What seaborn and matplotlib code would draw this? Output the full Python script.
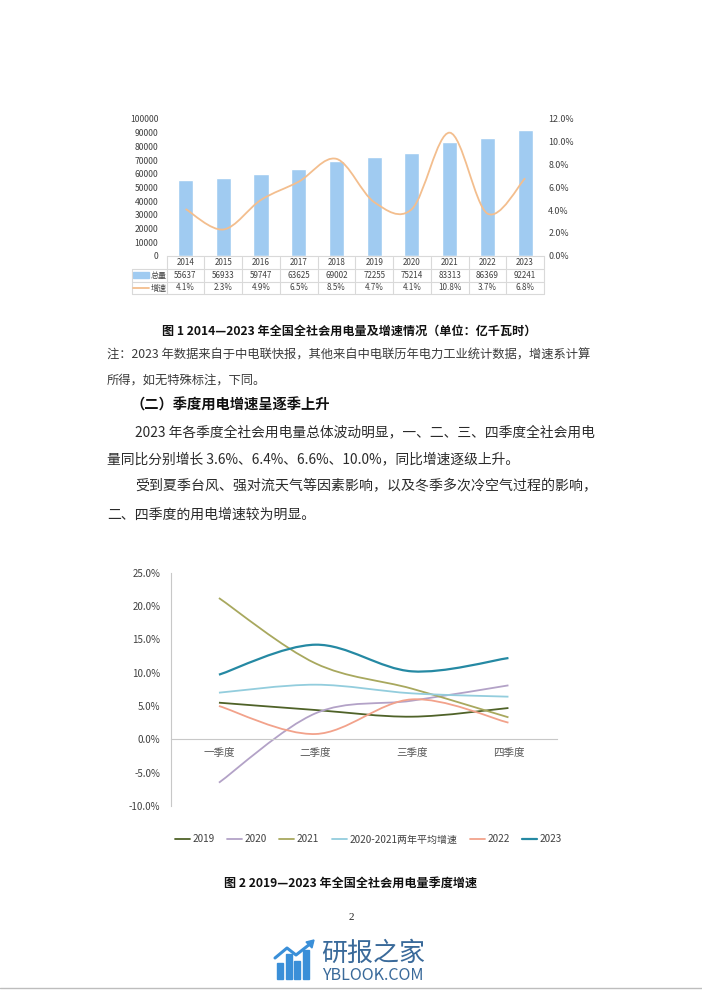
import numpy as np
import pandas as pd
import matplotlib
matplotlib.use('Agg')
import matplotlib.pyplot as plt
import seaborn as sns
from matplotlib.path import Path
from matplotlib.patches import PathPatch, Rectangle, Polygon
from matplotlib.lines import Line2D
import matplotlib.transforms as mtransforms

# ---------------- data ----------------
years = ['2014', '2015', '2016', '2017', '2018', '2019', '2020', '2021', '2022', '2023']
total = [55637, 56933, 59747, 63625, 69002, 72255, 75214, 83313, 86369, 92241]
growth = [4.1, 2.3, 4.9, 6.5, 8.5, 4.7, 4.1, 10.8, 3.7, 6.8]
growth_labels = ['4.1%', '2.3%', '4.9%', '6.5%', '8.5%', '4.7%', '4.1%', '10.8%', '3.7%', '6.8%']

quarters = ['一季度', '二季度', '三季度', '四季度']
q2019 = [5.5, 4.4, 3.4, 4.7]
q2020 = [-6.5, 3.9, 5.8, 8.1]
q2021 = [21.2, 11.4, 7.6, 3.3]
q2020_2021 = [7.0, 8.2, 6.9, 6.4]
q2022 = [5.0, 0.8, 6.0, 2.5]
q2023 = [9.7, 14.2, 10.2, 12.2]
series_names = ['2019', '2020', '2021', '2020-2021两年平均增速', '2022', '2023']
series_values = [q2019, q2020, q2021, q2020_2021, q2022, q2023]
series_colors = ['#4F6228', '#B3A2C7', '#A8A85E', '#93CDDD', '#F2A28B', '#2589A3']
series_widths = [1.3, 1.3, 1.3, 1.3, 1.3, 1.6]

# ---------------- setup ----------------
sns.set_theme(style='white')
plt.rcParams['font.family'] = ['Noto Sans CJK SC', 'DejaVu Sans']
W, H = 702, 991
fig = plt.figure(figsize=(7.02, 9.91), dpi=100)
fig.patch.set_facecolor('white')


def rect(x0, y0, x1, y1):
    return [x0 / W, 1 - y1 / H, (x1 - x0) / W, (y1 - y0) / H]


def fy(y):
    return 1 - y / H


def fx(x):
    return x / W


def smooth_path(xs, ys):
    pts = np.column_stack([xs, ys]).astype(float)
    n = len(pts)
    ext = np.vstack([pts[0], pts, pts[-1]])
    verts = [pts[0]]
    codes = [Path.MOVETO]
    for i in range(n - 1):
        p0, p1, p2, p3 = ext[i], ext[i + 1], ext[i + 2], ext[i + 3]
        c1 = p1 + (p2 - p0) / 6.0
        c2 = p2 - (p3 - p1) / 6.0
        verts += [c1, c2, p2]
        codes += [Path.CURVE4] * 3
    return Path(verts, codes)


def fig_line(x0, y0, x1, y1, color='#D9D9D9', lw=0.8):
    fig.add_artist(Line2D([fx(x0), fx(x1)], [fy(y0), fy(y1)], transform=fig.transFigure,
                          color=color, lw=lw))


line1_color = '#F3BE8E'
bar_color = '#A0CBF1'

# ---------------- chart 1 ----------------
ax1 = fig.add_axes(rect(166.7, 119, 544, 255.7))
df1 = pd.DataFrame({'year': years, 'total': total})
sns.barplot(data=df1, x='year', y='total', color=bar_color, width=0.4, saturation=1, ax=ax1)
ax1.set_xlim(-0.5, 9.5)
ax1.set_ylim(0, 100000)
ax1.set_yticks(range(0, 100001, 10000))
ax1.set_yticklabels([str(v) for v in range(0, 100001, 10000)])
ax1.set_xticks([])
ax1.set_xlabel('')
ax1.set_ylabel('')
for s in ['left', 'right', 'top']:
    ax1.spines[s].set_visible(False)
ax1.spines['bottom'].set_color('#D9D9D9')
ax1.spines['bottom'].set_linewidth(0.8)
ax1.tick_params(axis='y', length=0, pad=6, labelsize=6.2, labelcolor='#404040')
ax1.set_facecolor('none')

ax2 = ax1.twinx()
ax2.set_ylim(0, 12)
ax2.set_yticks(np.arange(0, 12.1, 2))
ax2.set_yticklabels([f'{v:.1f}%' for v in np.arange(0, 12.1, 2)])
for s in ['left', 'right', 'top', 'bottom']:
    ax2.spines[s].set_visible(False)
ax2.tick_params(axis='y', length=0, pad=3, labelsize=6.4, labelcolor='#404040')
ax2.add_patch(PathPatch(smooth_path(np.arange(len(years)), growth), fill=False,
                        edgecolor=line1_color, lw=1.3))

# data table under chart 1
tr = mtransforms.blended_transform_factory(ax1.transData, fig.transFigure)
row_y = [262.7, 275.3, 288.0]
for i, yr in enumerate(years):
    ax1.text(i, fy(row_y[0]), yr, transform=tr, ha='center', va='center', fontsize=5.8, color='#404040')
    ax1.text(i, fy(row_y[1]), str(total[i]), transform=tr, ha='center', va='center', fontsize=5.8, color='#404040')
    ax1.text(i, fy(row_y[2]), growth_labels[i], transform=tr, ha='center', va='center', fontsize=5.8, color='#404040')
for b in np.arange(-0.5, len(years), 1.0):
    ax1.add_artist(Line2D([b, b], [fy(256.7), fy(294.3)], transform=tr, color='#D9D9D9', lw=0.8, clip_on=False))
for yl in [269.0, 281.7, 294.3]:
    fig_line(131.7, yl, 544, yl)
fig_line(131.7, 269.0, 131.7, 294.3)
fig.add_artist(Rectangle((fx(133), fy(278)), (149 - 133) / W, 5.5 / H, transform=fig.transFigure,
                         color=bar_color))
fig.add_artist(Line2D([fx(133), fx(149)], [fy(288), fy(288)], transform=fig.transFigure,
                      color=line1_color, lw=1.3))
fig.text(fx(151), fy(275.3), '总量', ha='left', va='center', fontsize=5.8, color='#404040')
fig.text(fx(151), fy(288.0), '增速', ha='left', va='center', fontsize=5.8, color='#404040')

# ---------------- page text ----------------
tc = '#2A2A2A'
fig.text(fx(349), fy(331), '图 1 2014—2023 年全国全社会用电量及增速情况（单位：亿千瓦时）',
         ha='center', va='center', fontsize=8.7, fontweight='bold', color='#111111')
fig.text(fx(107), fy(355.5), '注：2023 年数据来自于中电联快报，其他来自中电联历年电力工业统计数据，增速系计算',
         ha='left', va='center', fontsize=8.85, color='#3A3A3A')
fig.text(fx(107), fy(380), '所得，如无特殊标注，下同。', ha='left', va='center', fontsize=8.85, color='#3A3A3A')
fig.text(fx(130), fy(405), '（二）季度用电增速呈逐季上升', ha='left', va='center', fontsize=10.3,
         fontweight='bold', color='#111111')
fig.text(fx(135), fy(432.7), '2023 年各季度全社会用电量总体波动明显，一、二、三、四季度全社会用电',
         ha='left', va='center', fontsize=9.9, color=tc)
fig.text(fx(107), fy(459.5), '量同比分别增长 3.6%、6.4%、6.6%、10.0%，同比增速逐级上升。',
         ha='left', va='center', fontsize=9.9, color=tc)
fig.text(fx(135), fy(486.7), '受到夏季台风、强对流天气等因素影响，以及冬季多次冷空气过程的影响，',
         ha='left', va='center', fontsize=10.05, color=tc)
fig.text(fx(107), fy(514.3), '二、四季度的用电增速较为明显。', ha='left', va='center', fontsize=10, color=tc)

# ---------------- chart 2 ----------------
ax3 = fig.add_axes(rect(170.7, 572.7, 556.7, 806))
ax3.set_xlim(0, 4)
ax3.set_ylim(-10, 25)
ax3.set_yticks(range(-10, 26, 5))
ax3.set_yticklabels([f'{v:.1f}%' for v in range(-10, 26, 5)])
xpos = np.arange(len(quarters)) + 0.5
ax3.set_xticks(xpos)
ax3.set_xticklabels(quarters)
for s in ['right', 'top']:
    ax3.spines[s].set_visible(False)
ax3.spines['bottom'].set_position(('data', 0))
for s in ['bottom', 'left']:
    ax3.spines[s].set_color('#C8C8C8')
    ax3.spines[s].set_linewidth(0.8)
ax3.tick_params(axis='y', length=0, pad=7.5, labelsize=7, labelcolor='#404040')
ax3.tick_params(axis='x', length=0, pad=6, labelsize=7.6, labelcolor='#595959')
ax3.set_facecolor('none')

handles = []
for name, vals, col, lw in zip(series_names, series_values, series_colors, series_widths):
    ax3.add_patch(PathPatch(smooth_path(xpos, vals), fill=False, edgecolor=col, lw=lw))
    handles.append(Line2D([], [], color=col, lw=lw))
leg = ax3.legend(handles, series_names, ncol=6, loc='center', bbox_to_anchor=(0.512, -0.143),
                 frameon=False, fontsize=7.2, handlelength=1.5, handletextpad=0.25, columnspacing=1.25)
for t in leg.get_texts():
    t.set_color('#404040')

fig.text(fx(351), fy(883), '图 2 2019—2023 年全国全社会用电量季度增速', ha='center', va='center',
         fontsize=8.7, fontweight='bold', color='#111111')
fig.text(fx(351), fy(917), '2', ha='center', va='center', fontsize=8,
         family=['Liberation Serif', 'DejaVu Serif'], color='#222222')

# ---------------- watermark logo ----------------
logo_c = '#3A8FD8'
for bx, top in zip([277, 285.5, 294, 302.5], [963, 954, 961, 950]):
    fig.add_artist(Rectangle((fx(bx), fy(979)), 6 / W, (979 - top) / H, transform=fig.transFigure,
                             color=logo_c))
fig.add_artist(Line2D([fx(275), fx(287), fx(296), fx(310)], [fy(958), fy(948), fy(955), fy(944)],
                      transform=fig.transFigure, color=logo_c, lw=2.2))
fig.add_artist(Polygon([[fx(314), fy(940)], [fx(306), fy(942)], [fx(312), fy(948)]], closed=True,
                       transform=fig.transFigure, color=logo_c))
fig.text(fx(321), fy(953), '研报之家', ha='left', va='center', fontsize=18.7, color='#3A6A9A')
fig.text(fx(322), fy(975), 'YBLOOK.COM', ha='left', va='center', fontsize=11.6, color='#3A6A9A')
fig_line(0, 988, 702, 988, color='#BDBDBD', lw=1)

fig.savefig('out.png', dpi=100, facecolor='white')
